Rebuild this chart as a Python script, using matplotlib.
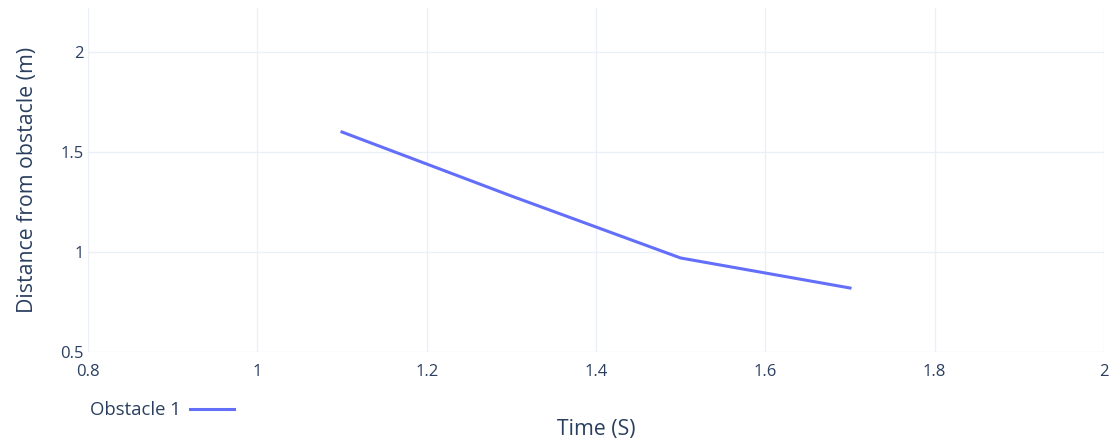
import matplotlib
matplotlib.use("Agg")
import matplotlib.pyplot as plt

time_s = [1.1, 1.2, 1.3, 1.4, 1.5, 1.6, 1.7]
distance_m = [1.6, 1.44, 1.28, 1.125, 0.97, 0.895, 0.82]
series_name = "Obstacle 1"
x_ticks = [0.8, 1.0, 1.2, 1.4, 1.6, 1.8, 2.0]
x_tick_labels = ["0.8", "1", "1.2", "1.4", "1.6", "1.8", "2"]
y_ticks = [0.5, 1.0, 1.5, 2.0]
y_tick_labels = ["0.5", "1", "1.5", "2"]

plt.rcParams['font.family'] = ['Open Sans', 'DejaVu Sans']
text_color = '#2a3f5f'
grid_color = '#ebf0f8'

fig = plt.figure(figsize=(11.16, 4.45), dpi=100)
ax = fig.add_axes([88/1116, 1-352/445, (1104-88)/1116, (352-8)/445])
ax.plot(time_s, distance_m, color='#636efa', lw=2.2, label=series_name, solid_joinstyle='round')
ax.set_xlim(0.8, 2.0)
ax.set_ylim(0.5, 2.22)
ax.set_xticks(x_ticks)
ax.set_xticklabels(x_tick_labels)
ax.set_yticks(y_ticks)
ax.set_yticklabels(y_tick_labels)
for s in ax.spines.values():
    s.set_visible(False)
ax.grid(True, color=grid_color, lw=1)
ax.set_axisbelow(True)
ax.tick_params(axis='both', length=0, labelsize=12, labelcolor=text_color)
ax.tick_params(axis='x', pad=9)
ax.tick_params(axis='y', pad=3)
ax.set_xlabel("Time (S)", fontsize=15.3, color=text_color, labelpad=28)
ax.set_ylabel("Distance from obstacle (m)", fontsize=15.3, color=text_color, labelpad=16)
fig.legend(loc='center left', bbox_to_anchor=(73/1116, 1-410/445), markerfirst=False,
           frameon=False, fontsize=13.3, labelcolor=text_color, handlelength=2.4, handletextpad=0.5)
fig.savefig("out.png", dpi=100, facecolor='white')
